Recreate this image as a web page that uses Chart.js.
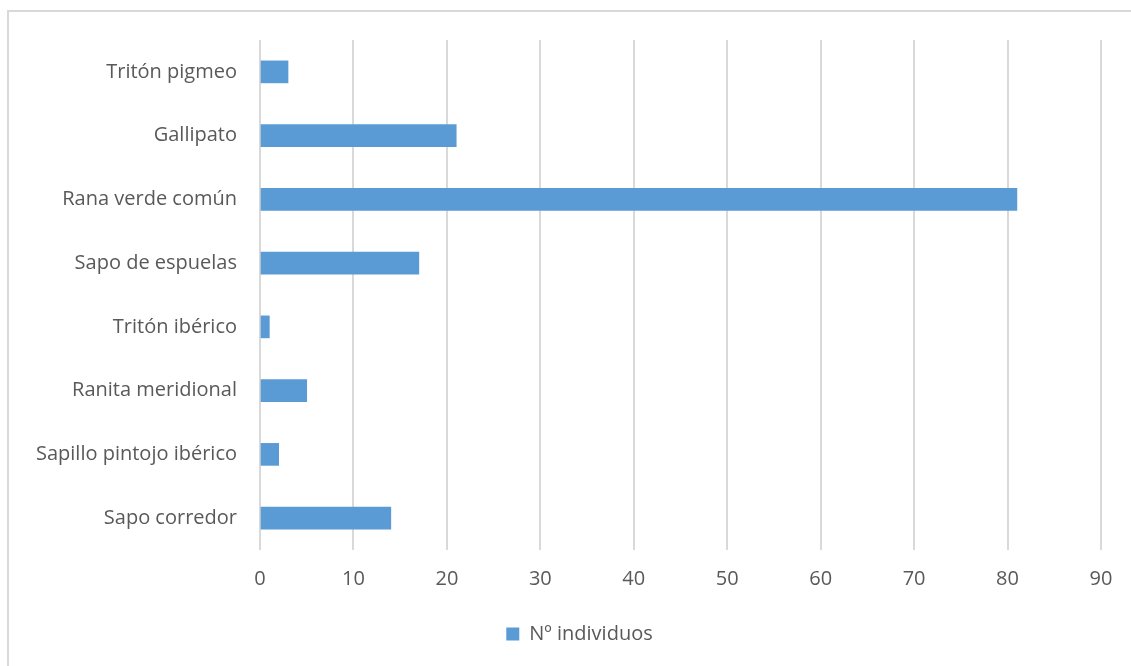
<!DOCTYPE html>
<html>
<head>
<meta charset="utf-8">
<script src="https://cdn.jsdelivr.net/npm/chart.js@4.4.0/dist/chart.umd.min.js"></script>
<style>
  html, body { margin: 0; padding: 0; background: #fff; overflow: hidden; }
  #wrap { position: relative; width: 1131px; height: 666px; }
  #frame { position: absolute; left: 7px; top: 10px; width: 1200px; height: 700px; border: 2px solid #d9d9d9; box-sizing: border-box; }
  #chart { position: absolute; left: 0; top: 0; }
</style>
</head>
<body>
<div id="wrap">
  <div id="frame"></div>
  <canvas id="chart" width="1131" height="666"></canvas>
</div>
<script>
// Especies (de arriba a abajo) y número de individuos
const species = [
    "Tritón pigmeo",
    "Gallipato",
    "Rana verde común",
    "Sapo de espuelas",
    "Tritón ibérico",
    "Ranita meridional",
    "Sapillo pintojo ibérico",
    "Sapo corredor"
];
const counts = [3, 21, 81, 17, 1, 5, 2, 14];
const seriesName = "Nº individuos";
const xTicks = [0, 10, 20, 30, 40, 50, 60, 70, 80, 90];

const textColor = "#595959";
const fontFamily = "'Open Sans', 'Noto Sans', sans-serif";
const fontSize = 20;

// the legend is centred under the whole frame, not under the plot area
const legendShift = {
    id: "legendShift",
    afterLayout: function(chart) {
        chart.legend.left += 29;
        chart.legend.right += 29;
    }
};

let ctx = document.getElementById("chart").getContext("2d");

new Chart(ctx, {
    type: "bar",
    data: {
        labels: species,
        datasets: [{
            label: seriesName,
            data: counts,
            backgroundColor: "#5b9bd5",
            borderWidth: 0,
            barThickness: 22
        }]
    },
    options: {
        indexAxis: "y",
        responsive: false,
        animation: false,
        layout: {
            padding: { top: 40, right: 30, bottom: 12, left: 0 }
        },
        scales: {
            x: {
                min: xTicks[0],
                max: xTicks[xTicks.length - 1],
                afterBuildTicks: function(scale) {
                    scale.ticks = xTicks.map(v => ({ value: v }));
                },
                afterFit: function(scale) { scale.height = 64; },
                grid: { color: "#d9d9d9", lineWidth: 2, drawTicks: false },
                border: { display: false },
                ticks: {
                    color: textColor,
                    padding: 17,
                    font: { family: fontFamily, size: fontSize }
                }
            },
            y: {
                afterFit: function(scale) { scale.width = 260; },
                grid: { display: false, drawTicks: false },
                border: { display: false },
                ticks: {
                    color: textColor,
                    padding: 23,
                    font: { family: fontFamily, size: fontSize }
                }
            }
        },
        plugins: {
            legend: {
                position: "bottom",
                labels: {
                    color: textColor,
                    boxWidth: 13,
                    boxHeight: 13,
                    padding: 10,
                    font: { family: fontFamily, size: fontSize }
                }
            },
            tooltip: { enabled: false }
        }
    },
    plugins: [legendShift]
});
</script>
</body>
</html>
